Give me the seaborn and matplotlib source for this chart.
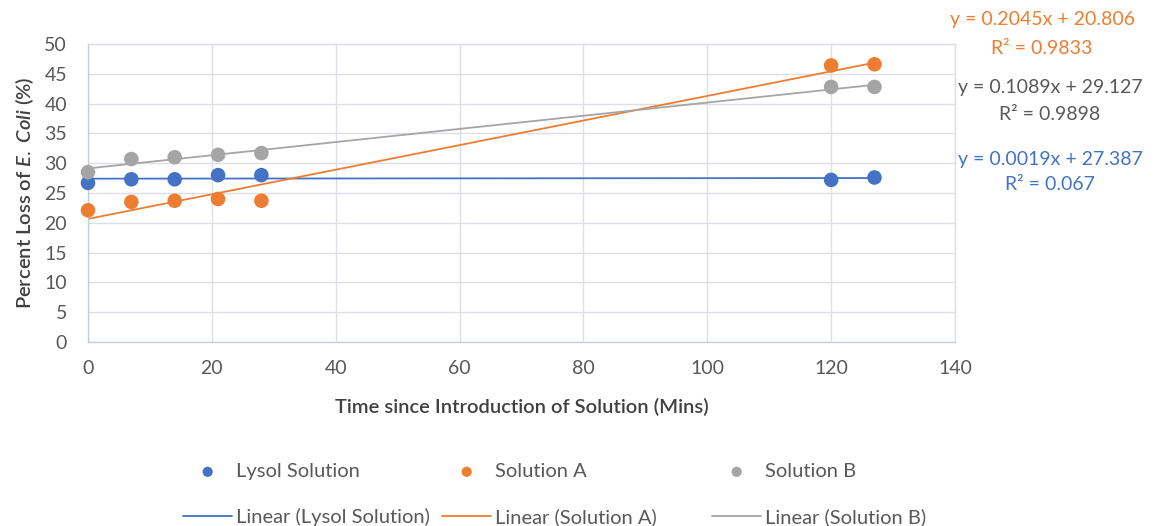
import matplotlib
matplotlib.use("Agg")
import matplotlib.pyplot as plt
import seaborn as sns
import pandas as pd

# ---- data ----
time_mins = [0, 7, 14, 21, 28, 120, 127]
lysol = [26.7, 27.3, 27.3, 28.0, 28.0, 27.2, 27.6]
solution_a = [22.1, 23.5, 23.7, 24.0, 23.7, 46.4, 46.6]
solution_b = [28.5, 30.7, 31.0, 31.4, 31.7, 42.8, 42.8]
series_names = ["Lysol Solution", "Solution A", "Solution B"]
series_colors = ["#4472C4", "#ED7D31", "#A5A5A5"]
eq_texts = ["y = 0.0019x + 27.387", "y = 0.2045x + 20.806", "y = 0.1089x + 29.127"]
r2_texts = ["R² = 0.067", "R² = 0.9833", "R² = 0.9898"]
eq_colors = ["#4472C4", "#ED7D31", "#595959"]
x_ticks = [0, 20, 40, 60, 80, 100, 120, 140]
y_ticks = [0, 5, 10, 15, 20, 25, 30, 35, 40, 45, 50]

df = pd.DataFrame({
    "time": time_mins * 3,
    "loss": lysol + solution_a + solution_b,
    "series": sum([[n] * len(time_mins) for n in series_names], []),
})

sns.set_theme(style="white")
plt.rcParams["font.family"] = ["Lato", "DejaVu Sans"]
plt.rcParams["mathtext.fontset"] = "custom"
plt.rcParams["mathtext.it"] = "Lato:italic:semibold"
plt.rcParams["mathtext.rm"] = "Lato"

W, H = 1160, 526
fig = plt.figure(figsize=(W / 100, H / 100), dpi=100)
L, R, T, B = 88, 955, 44, 342
ax = fig.add_axes([L / W, 1 - B / H, (R - L) / W, (B - T) / H])

grid_c = "#DCE0E6"
tick_c = "#595959"

line_handles = {}
for name, col in zip(series_names, series_colors):
    sub = df[df["series"] == name]
    n_before = len(ax.lines)
    sns.regplot(data=sub, x="time", y="loss", ax=ax, scatter=False, ci=None,
                truncate=True, color=col, line_kws={"lw": 1.3, "zorder": 2})
    ln = ax.lines[n_before]
    ln.set_label(f"Linear ({name})")
    line_handles[name] = ln

pt_handles = {}
for name, col in zip(series_names, series_colors):
    sub = df[df["series"] == name]
    n_before = len(ax.collections)
    sns.scatterplot(data=sub, x="time", y="loss", ax=ax, color=col, s=110,
                    edgecolor="none", zorder=3, clip_on=False)
    pc = ax.collections[n_before]
    pc.set_label(name)
    pt_handles[name] = pc
if ax.get_legend() is not None:
    ax.get_legend().remove()

ax.set_xlim(0, 140)
ax.set_ylim(0, 50)
ax.set_xticks(x_ticks)
ax.set_yticks(y_ticks)
ax.grid(True, color=grid_c, lw=1.0)
ax.set_axisbelow(True)
for s in ax.spines.values():
    s.set_visible(True)
    s.set_color(grid_c)
    s.set_linewidth(1.0)
ax.spines["left"].set_color("#C5CEDA")
ax.spines["bottom"].set_color("#C5CEDA")
ax.tick_params(axis="both", length=0, labelsize=14, labelcolor=tick_c)
ax.tick_params(axis="x", pad=13)
ax.tick_params(axis="y", pad=15)
ax.set_xlabel("Time since Introduction of Solution (Mins)", fontsize=14.5,
              color="#404040", fontweight="semibold", labelpad=15)
ax.set_ylabel("Percent Loss of $\\mathit{E.\\ Coli}$ (%)", fontsize=14.5,
              color="#404040", fontweight="semibold", labelpad=6)

# legends (three columns, marker row then trendline row)
col_x = [183, 442, 712]
for name, cx in zip(series_names, col_x):
    leg = fig.legend([pt_handles[name], line_handles[name]], [name, f"Linear ({name})"],
                     loc="upper left", bbox_to_anchor=(cx / W, 1 - 463 / H),
                     bbox_transform=fig.transFigure, frameon=False,
                     fontsize=14.5, handlelength=2.45, handletextpad=0.2,
                     labelspacing=1.4, borderpad=0, borderaxespad=0,
                     markerscale=0.7)
    for t in leg.get_texts():
        t.set_color(tick_c)

# trendline equation labels
pos = [(1050, 159, 185), (1042, 20, 48), (1050, 87, 114)]
for eq, r2, c, (cx, y1, y2) in zip(eq_texts, r2_texts, eq_colors, pos):
    fig.text(cx / W, 1 - y1 / H, eq, ha="center", va="center", fontsize=14, color=c)
    fig.text(cx / W, 1 - y2 / H, r2, ha="center", va="center", fontsize=14, color=c)

fig.savefig("out.png", dpi=100)
